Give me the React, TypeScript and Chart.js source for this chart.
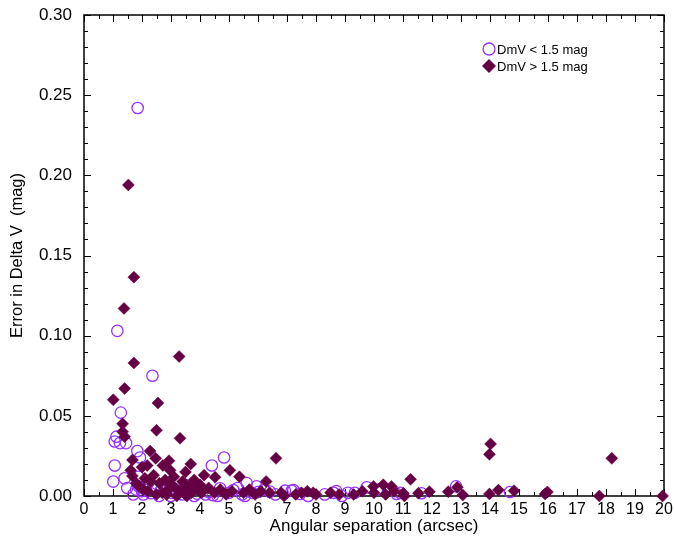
import React, { useEffect, useRef } from "react";
import { Chart, registerables } from "chart.js";

Chart.register(...registerables);

// DmV < 1.5 mag (open circles)
const lowX = [
  1.85, 1.15, 2.36, 1.27, 1.12, 1.06, 1.24, 1.45, 1.84, 1.93, 1.06, 1.01, 1.4, 1.49, 1.88,
  4.41, 4.83, 5.61, 5.95, 7.16, 12.83, 14.69, 11.64,
  1.9, 2.13, 2.3, 2.47, 2.76, 2.99, 2.59,
  4.0, 4.29, 4.69, 5.15, 5.55, 6.41, 6.93,
  7.22, 7.45, 7.73, 8.6, 8.89, 9.34, 9.75, 10.78,
  3.0, 3.2, 3.4, 3.6, 3.8, 2.8, 3.5, 2.2, 2.0, 1.7, 1.8, 4.2, 4.6, 5.0, 5.3, 5.8, 6.2, 6.6,
  8.3, 8.7, 9.1, 10.1, 10.9, 2.05, 2.65, 3.9, 4.45, 5.45, 6.0,
];
const lowY = [
  0.242, 0.103, 0.075, 0.052, 0.037, 0.034, 0.033, 0.033, 0.028, 0.024, 0.019, 0.009, 0.011, 0.005, 0.012,
  0.019, 0.024, 0.008, 0.006, 0.0033, 0.006, 0.0025, 0.0017,
  0.0058, 0.0037, 0.0017, 0.0048, 0.0027, 0.0, 0.0,
  0.0042, 0.0027, 0.0048, 0.0037, 0.0, 0.0027, 0.0033,
  0.0037, 0.0013, 0.0, 0.002, 0.0, 0.002, 0.0054, 0.0013,
  0.002, 0.004, 0.001, 0.003, 0.0, 0.006, 0.007, 0.008, 0.003, 0.001, 0.004, 0.001, 0.0, 0.002, 0.005, 0.002, 0.004, 0.001,
  0.001, 0.003, 0.002, 0.004, 0.002, 0.001, 0.0035, 0.0015, 0.0005, 0.001, 0.0025,
];

// DmV > 1.5 mag (filled diamonds)
const highX = [
  1.53, 1.72, 1.38, 3.28, 1.72, 1.4, 1.01, 2.55, 1.33, 1.33, 1.4, 2.5, 3.31, 2.28, 2.47, 1.67, 2.93,
  3.68, 1.61, 2.18, 2.72, 2.97, 1.67, 3.5, 2.3, 4.14, 4.52, 5.03, 5.36, 6.28, 6.62, 11.26, 14.02,
  13.98, 18.2,
  1.9, 2.0, 2.1, 2.4, 2.6, 2.8, 3.0, 3.1, 3.4, 3.6, 3.8, 3.9, 4.0, 3.7, 3.5, 3.3, 2.9, 2.7,
  4.3, 4.5, 4.7, 4.9, 5.1, 5.5, 5.7, 5.9, 6.1, 6.4, 6.8, 7.5, 7.7, 7.9, 8.0, 8.5, 8.8, 9.3, 9.6,
  9.98, 10.32, 10.6, 10.0, 10.4, 10.7, 11.05, 11.01, 11.53, 11.91, 12.56, 12.87, 13.06, 13.98,
  14.29, 14.83, 15.9, 15.98, 17.77, 19.95, 7.3, 6.9, 3.2, 2.5, 2.2, 1.8, 2.05,
  3.45, 3.75, 3.55, 4.05, 3.15, 2.85,
];
const highY = [
  0.194, 0.1365, 0.117, 0.087, 0.083, 0.067, 0.06, 0.058, 0.045, 0.04, 0.037, 0.041, 0.036, 0.028, 0.0235, 0.0225, 0.022,
  0.02, 0.016, 0.019, 0.019, 0.016, 0.0125, 0.015, 0.009, 0.013, 0.0117, 0.016, 0.012, 0.009, 0.0235, 0.0104, 0.0325,
  0.026, 0.0235,
  0.006, 0.018, 0.011, 0.013, 0.008, 0.01, 0.007, 0.012, 0.009, 0.006, 0.01, 0.004, 0.007, 0.002, 0.001, 0.003, 0.004, 0.002,
  0.005, 0.002, 0.004, 0.001, 0.003, 0.002, 0.004, 0.001, 0.003, 0.002, 0.002, 0.002, 0.003, 0.002, 0.001, 0.002, 0.001, 0.001, 0.003,
  0.006, 0.007, 0.006, 0.002, 0.001, 0.003, 0.0, 0.0017, 0.0017, 0.0027, 0.0027, 0.0054, 0.0006, 0.0013,
  0.0037, 0.0033, 0.0013, 0.0025, 0.0, 0.0, 0.001, 0.0, 0.0, 0.001, 0.003, 0.008, 0.004,
  0.004, 0.005, 0.0, 0.002, 0.005, 0.001,
];

const lowLabel = "DmV < 1.5 mag";
const highLabel = "DmV > 1.5 mag";
const xTickValues = [0, 1, 2, 3, 4, 5, 6, 7, 8, 9, 10, 11, 12, 13, 14, 15, 16, 17, 18, 19, 20];
const yTickValues = [0, 0.05, 0.1, 0.15, 0.2, 0.25, 0.3];

const CIRCLE_COLOR = "#9b30ff";
const DIAMOND_COLOR = "#660044";
const FONT = "'Liberation Sans', Arial, sans-serif";

const framePlugin = {
  id: "frame",
  beforeDatasetsDraw(chart: any) {
    const { ctx, chartArea } = chart;
    const xs = chart.scales.x;
    const ys = chart.scales.y;
    const { left, right, top, bottom } = chartArea;
    ctx.save();
    ctx.strokeStyle = "#000";
    ctx.lineWidth = 1;
    ctx.beginPath();
    for (let v = 0; v <= 20.001; v += 0.5) {
      const px = Math.round(xs.getPixelForValue(v)) + 0.5;
      const major = Math.abs(v - Math.round(v)) < 1e-6;
      const len = major ? 7 : 4;
      ctx.moveTo(px, bottom);
      ctx.lineTo(px, bottom - len);
      ctx.moveTo(px, top);
      ctx.lineTo(px, top + len);
    }
    for (let i = 0; i <= 30; i++) {
      const v = i / 100;
      const py = Math.round(ys.getPixelForValue(v)) + 0.5;
      const major = i % 5 === 0;
      const len = major ? 7 : 4;
      ctx.moveTo(left, py);
      ctx.lineTo(left + len, py);
      ctx.moveTo(right, py);
      ctx.lineTo(right - len, py);
    }
    ctx.stroke();
    ctx.lineWidth = 1.5;
    ctx.strokeRect(left, top, right - left, bottom - top);
    ctx.restore();
  },
};

const legendPlugin = {
  id: "insideLegend",
  afterDatasetsDraw(chart: any) {
    const { ctx } = chart;
    const items = [
      { label: lowLabel, ds: chart.data.datasets[0], y: 49 },
      { label: highLabel, ds: chart.data.datasets[1], y: 66 },
    ];
    ctx.save();
    ctx.font = `13px ${FONT}`;
    ctx.textBaseline = "middle";
    ctx.textAlign = "left";
    items.forEach((it) => {
      const x = 489;
      ctx.beginPath();
      ctx.lineWidth = 1.3;
      if (it.ds.pointStyle === "circle") {
        ctx.arc(x, it.y, 6, 0, Math.PI * 2);
        ctx.strokeStyle = it.ds.borderColor;
        ctx.stroke();
      } else {
        ctx.moveTo(x - 7, it.y);
        ctx.lineTo(x, it.y - 7);
        ctx.lineTo(x + 7, it.y);
        ctx.lineTo(x, it.y + 7);
        ctx.closePath();
        ctx.fillStyle = it.ds.backgroundColor;
        ctx.fill();
      }
      ctx.fillStyle = "#000";
      ctx.fillText(it.label, 497, it.y + 1);
    });
    ctx.restore();
  },
};

export default function App() {
  const canvasRef = useRef<HTMLCanvasElement | null>(null);

  useEffect(() => {
    if (!canvasRef.current) return;
    const lowData = lowX.map((x, i) => ({ x, y: lowY[i] }));
    const highData = highX.map((x, i) => ({ x, y: highY[i] }));
    const chart = new Chart(canvasRef.current, {
      type: "scatter",
      data: {
        datasets: [
          {
            label: lowLabel,
            data: lowData,
            pointStyle: "circle",
            pointRadius: 5.7,
            borderColor: CIRCLE_COLOR,
            backgroundColor: "rgba(0,0,0,0)",
            borderWidth: 1.3,
            clip: false as any,
            order: 2,
          },
          {
            label: highLabel,
            data: highData,
            pointStyle: "rectRot",
            pointRadius: 6,
            borderColor: DIAMOND_COLOR,
            backgroundColor: DIAMOND_COLOR,
            borderWidth: 0.5,
            clip: false as any,
            order: 1,
          },
        ],
      },
      options: {
        animation: false,
        responsive: false,
        layout: { padding: { left: 0, top: 15, right: 10, bottom: 0 } },
        plugins: {
          legend: { display: false },
          tooltip: { enabled: false },
        },
        scales: {
          x: {
            type: "linear",
            min: 0,
            max: 20,
            afterBuildTicks: (s: any) => {
              s.ticks = xTickValues.map((v) => ({ value: v }));
            },
            afterFit: (s: any) => {
              s.height = 45;
              s.paddingLeft = 0;
              s.paddingRight = 0;
            },
            grid: { display: false, drawTicks: false },
            border: { display: false },
            ticks: {
              color: "#000",
              font: { family: FONT, size: 16 },
              padding: 4,
              maxRotation: 0,
              autoSkip: false,
              callback: (v: any) => String(v),
            },
            title: {
              display: true,
              text: "Angular separation (arcsec)",
              color: "#000",
              font: { family: FONT, size: 17 },
              padding: { top: 0, bottom: 4 },
            },
          },
          y: {
            type: "linear",
            min: 0,
            max: 0.3,
            afterBuildTicks: (s: any) => {
              s.ticks = yTickValues.map((v) => ({ value: v }));
            },
            afterFit: (s: any) => {
              s.width = 84;
              s.paddingTop = 0;
              s.paddingBottom = 0;
            },
            grid: { display: false, drawTicks: false },
            border: { display: false },
            ticks: {
              color: "#000",
              font: { family: FONT, size: 17 },
              padding: 12,
              autoSkip: false,
              callback: (v: any) => Number(v).toFixed(2),
            },
            title: {
              display: true,
              text: "Error in Delta V  (mag)",
              color: "#000",
              font: { family: FONT, size: 16.5 },
              padding: { top: 8, bottom: 0 },
            },
          },
        },
      },
      plugins: [framePlugin, legendPlugin],
    });
    return () => chart.destroy();
  }, []);

  return (
    <div style={{ position: "absolute", left: 0, top: 0, width: 674, height: 541, background: "#fff" }}>
      <canvas ref={canvasRef} width={674} height={541} style={{ width: 674, height: 541 }} />
    </div>
  );
}
